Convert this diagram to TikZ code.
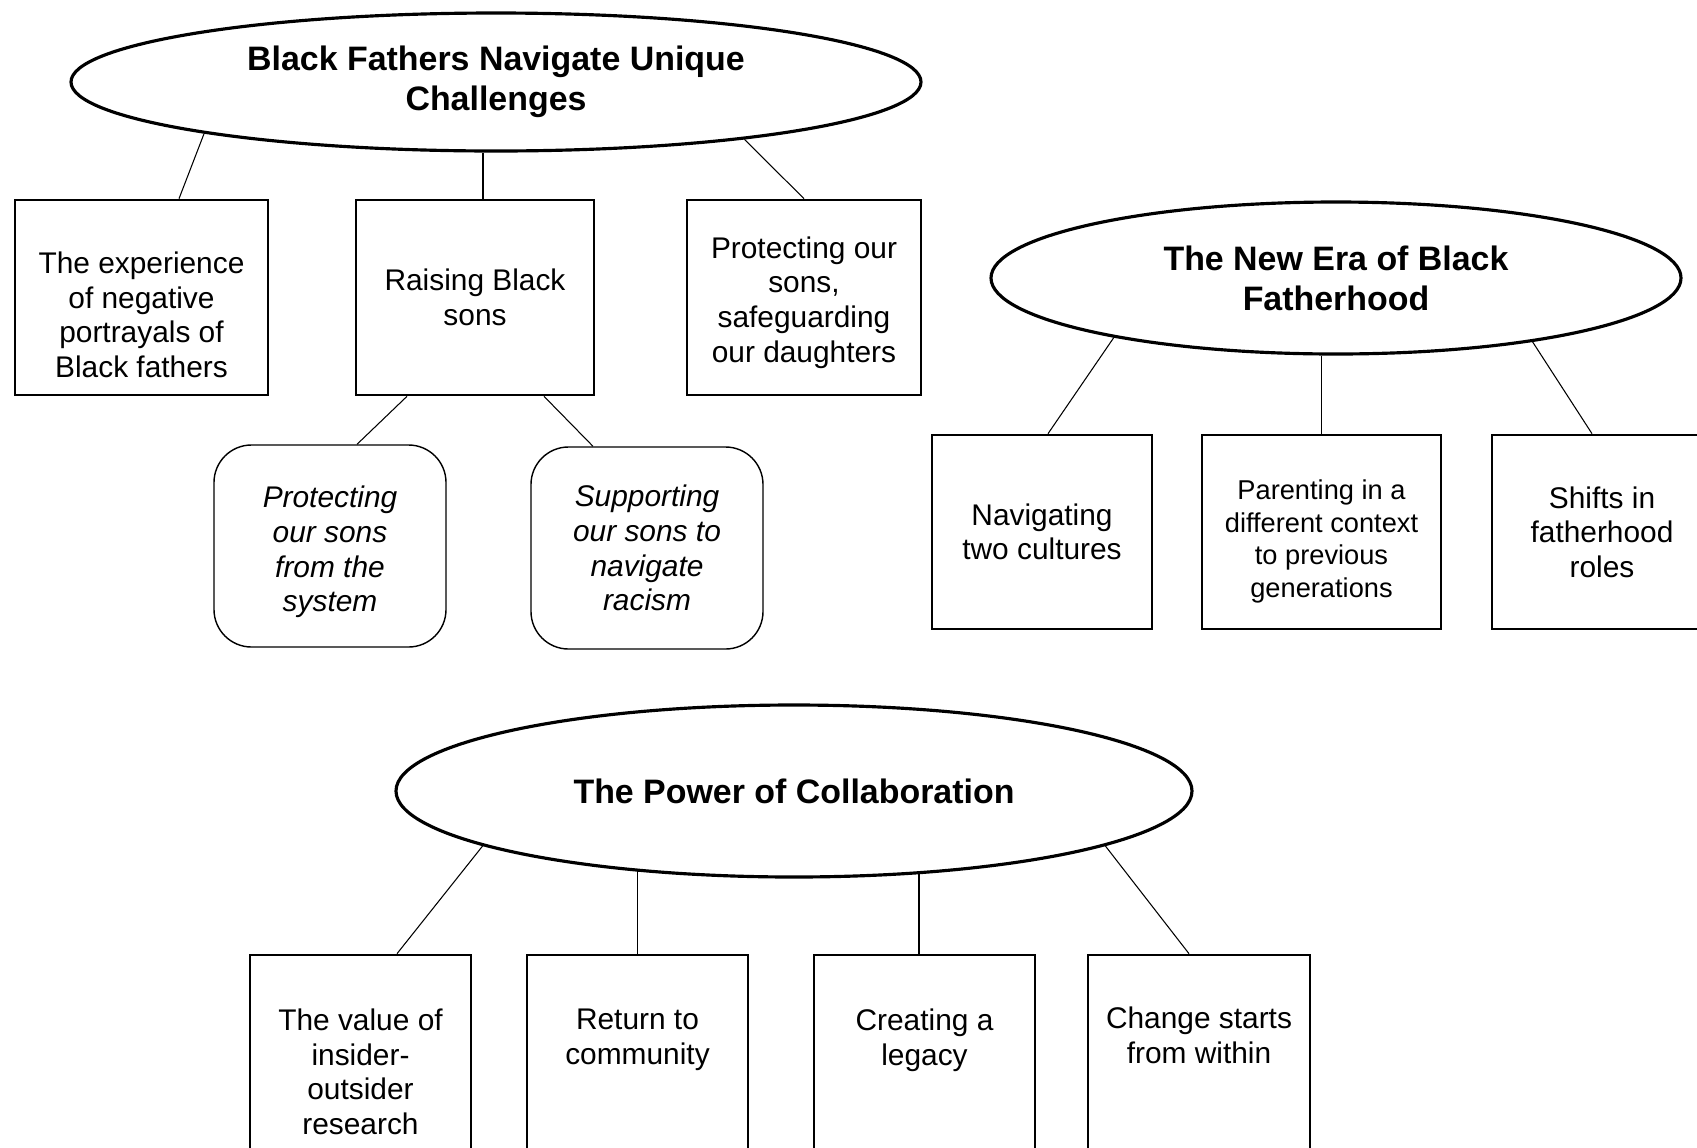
\documentclass[tikz,border=0pt]{standalone}
\usepackage{fontspec}
\setmainfont{Liberation Sans}
\usetikzlibrary{shapes.geometric}
\begin{document}
\begin{tikzpicture}
[font=\fontsize{17}{19.7}\selectfont]

\tikzstyle{theme}=[ellipse, draw, line width=1.8pt, fill=white, inner sep=0pt, align=center, font=\fontsize{19.3}{22.8}\selectfont\bfseries]
\tikzstyle{sub}=[rectangle, draw, line width=1.5pt, inner sep=0pt, align=center]
\tikzstyle{subsub}=[rectangle, rounded corners=0.75cm, draw, line width=0.8pt, inner sep=0pt, align=center, font=\fontsize{17}{19.7}\selectfont\itshape]
\tikzstyle{txt}=[inner sep=0pt, align=center]
\tikzstyle{link}=[line width=0.6pt]

\useasboundingbox[fill=white] (0,0) rectangle (33.94,-22.94);

% first theme
\node[theme, minimum width=17cm, minimum height=2.76cm] (fathers) at (9.92,-1.64) {Black Fathers Navigate Unique\\Challenges};
\node[sub, minimum width=5.06cm, minimum height=3.9cm] (portrayals) at (2.83,-5.95) {};
\node[txt] (portrayals-txt) at ([yshift=-0.35cm]portrayals.center) {The experience\\of negative\\portrayals of\\Black fathers};
\node[sub, minimum width=4.76cm, minimum height=3.9cm] (sons) at (9.5,-5.95) {Raising Black\\sons};
\node[sub, minimum width=4.68cm, minimum height=3.9cm] (daughters) at (16.08,-5.95) {};
\node[txt] (daughters-txt) at ([yshift=-0.1cm]daughters.center) {Protecting our\\sons,\\safeguarding\\our daughters};
\node[subsub, minimum width=4.64cm, minimum height=4.04cm] (system) at (6.6,-10.92) {};
\node[txt, font=\fontsize{17}{19.7}\selectfont\itshape] (system-txt) at ([yshift=-0.12cm]system.center) {Protecting\\our sons\\from the\\system};
\node[subsub, minimum width=4.64cm, minimum height=4.04cm] (racism) at (12.94,-10.96) {Supporting\\our sons to\\navigate\\racism};

% second theme
\node[theme, minimum width=13.8cm, minimum height=3.04cm] (newera) at (26.72,-5.56) {The New Era of Black\\Fatherhood};
\node[sub, minimum width=4.4cm, minimum height=3.88cm] (cultures) at (20.84,-10.64) {Navigating\\two cultures};
\node[sub, minimum width=4.78cm, minimum height=3.88cm] (context) at (26.43,-10.64) {};
\node[txt, font=\fontsize{15.5}{18.6}\selectfont] (context-txt) at ([yshift=-0.19cm]context.center) {Parenting in a\\different context\\to previous\\generations};
\node[sub, minimum width=4.4cm, minimum height=3.88cm] (roles) at (32.04,-10.64) {Shifts in\\fatherhood\\roles};

% third theme
\node[theme, minimum width=15.92cm, minimum height=3.44cm] (collab) at (15.88,-15.82) {The Power of Collaboration};
\node[sub, minimum width=4.42cm, minimum height=4.9cm] (insider) at (7.21,-21.55) {};
\node[sub, minimum width=4.42cm, minimum height=4.9cm] (community) at (12.75,-21.55) {};
\node[sub, minimum width=4.42cm, minimum height=4.9cm] (legacy) at (18.49,-21.55) {};
\node[sub, minimum width=4.44cm, minimum height=4.9cm] (within) at (23.98,-21.55) {};
\node[txt, anchor=north] (insider-txt) at ([yshift=-1.1cm]insider.north) {The value of\\insider-\\outsider\\research};
\node[txt, anchor=north] (community-txt) at ([yshift=-1.1cm]community.north) {Return to\\community};
\node[txt, anchor=north] (legacy-txt) at ([yshift=-1.1cm]legacy.north) {Creating a\\legacy};
\node[txt, anchor=north] (within-txt) at ([yshift=-1.06cm]within.north) {Change starts\\from within};

\draw[link] (fathers.190) -- ([xshift=0.75cm]portrayals.north);
\draw[link] ([xshift=0.16cm]sons.north) -- ([xshift=0.16cm]sons.north |- fathers.south);
\draw[link] (fathers.347) -- (daughters.north);
\draw[link] ([xshift=-1.36cm]sons.south) -- ([xshift=0.54cm]system.north);
\draw[link] ([xshift=1.38cm]sons.south) -- ([xshift=-1.08cm]racism.north);

\draw[link] (newera.195) -- ([xshift=0.12cm]cultures.north);
\draw[link] (context.north) -- (context.north |- newera.south);
\draw[link] (newera.342) -- ([xshift=-0.2cm]roles.north);

\draw[link] (collab.190) -- ([xshift=0.73cm]insider.north);
\draw[link] (community.north) -- (community.north |- collab.207);
\draw[link] ([xshift=-0.11cm]legacy.north) -- ([xshift=-0.11cm]legacy.north |- collab.327);
\draw[link] (collab.350) -- ([xshift=-0.2cm]within.north);
\end{tikzpicture}
\end{document}
